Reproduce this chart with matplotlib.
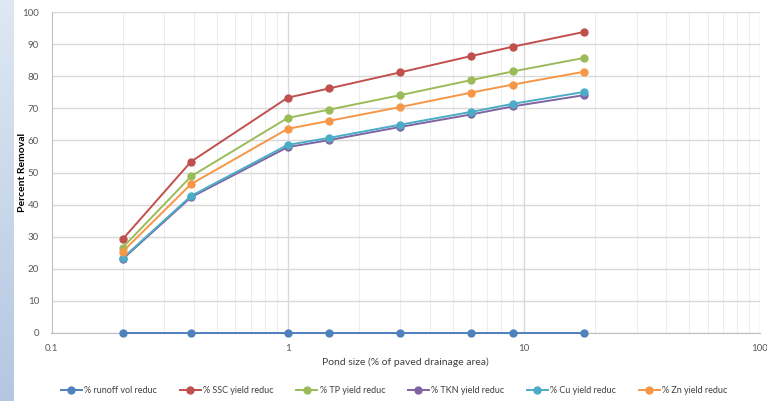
import numpy as np
import matplotlib
matplotlib.use("Agg")
import matplotlib.pyplot as plt
from matplotlib.ticker import LogLocator, FixedLocator, NullFormatter
from matplotlib.colors import LinearSegmentedColormap

plt.rcParams['font.family'] = ['Lato', 'DejaVu Sans']

# Pond size (% of paved drainage area)
pond_size = [0.2, 0.39, 1.0, 1.5, 3.0, 6.0, 9.0, 18.0]

runoff_vol = [0, 0, 0, 0, 0, 0, 0, 0]
ssc_yield = [29.2, 53.4, 73.3, 76.2, 81.2, 86.3, 89.2, 93.8]
tp_yield = [26.6, 48.8, 67.0, 69.6, 74.1, 78.8, 81.5, 85.7]
tkn_yield = [23.0, 42.3, 57.9, 60.1, 64.2, 68.1, 70.6, 74.1]
cu_yield = [23.3, 42.7, 58.6, 60.8, 64.9, 68.9, 71.4, 75.1]
zn_yield = [25.3, 46.4, 63.6, 66.1, 70.4, 74.9, 77.4, 81.4]

series = [
    ("% runoff vol reduc", runoff_vol, "#4F81BD"),
    ("% SSC yield reduc", ssc_yield, "#C0504D"),
    ("% TP yield reduc", tp_yield, "#9BBB59"),
    ("% TKN yield reduc", tkn_yield, "#8064A2"),
    ("% Cu yield reduc", cu_yield, "#4BACC6"),
    ("% Zn yield reduc", zn_yield, "#F79646"),
]

fig = plt.figure(figsize=(7.67, 4.01), dpi=100)

# blue gradient band on the left edge
band = fig.add_axes([0, 0, 14 / 767, 1])
grad = np.linspace(0, 1, 256).reshape(-1, 1)
cmap = LinearSegmentedColormap.from_list("band", ["#B3C7E1", "#DFE8F3"])
band.imshow(grad, aspect="auto", cmap=cmap, origin="lower", extent=[0, 1, 0, 1])
band.set_axis_off()

ax = fig.add_axes([51.5 / 767, 1 - 333 / 401, (760 - 51.5) / 767, (333 - 12) / 401])
ax.set_xscale("log")
ax.set_xlim(0.1, 100)
ax.set_ylim(0, 100)

for label, vals, color in series:
    ax.plot(pond_size, vals, color=color, lw=1.4, marker="o", ms=5,
            label=label, zorder=3, clip_on=False)

ax.xaxis.set_major_locator(FixedLocator([0.1, 1, 10, 100]))
ax.set_xticklabels(["0.1", "1", "10", "100"])
ax.xaxis.set_minor_locator(LogLocator(base=10, subs=np.arange(2, 10)))
ax.xaxis.set_minor_formatter(NullFormatter())
ax.set_yticks(np.arange(0, 101, 10))

ax.grid(which="major", axis="both", color="#D9D9D9", lw=1.0, zorder=0)
ax.grid(which="minor", axis="x", color="#EDEDED", lw=0.8, zorder=0)
ax.set_axisbelow(True)

for side in ["top", "right"]:
    ax.spines[side].set_visible(False)
ax.spines["left"].set_color("#BFBFBF")
ax.spines["bottom"].set_color("#BFBFBF")
ax.tick_params(which="both", length=0, labelsize=7, labelcolor="#595959")
ax.tick_params(axis="y", pad=9)
ax.tick_params(axis="x", pad=8)

ax.set_ylabel("Percent Removal", fontsize=7.5, fontweight="bold")
ax.yaxis.set_label_coords(-0.0345, 0.5)
ax.set_xlabel("Pond size (% of paved drainage area)", fontsize=7.5,
              color="#404040", va="center")
ax.xaxis.set_label_coords(0.5, -0.0903)

fig.legend(loc="lower center", ncol=6, frameon=False, fontsize=6.5,
           bbox_to_anchor=(0.514, -0.005), handlelength=2.3, columnspacing=2.5,
           handletextpad=0.3, labelcolor="#404040")

fig.savefig("out.png", dpi=100)
